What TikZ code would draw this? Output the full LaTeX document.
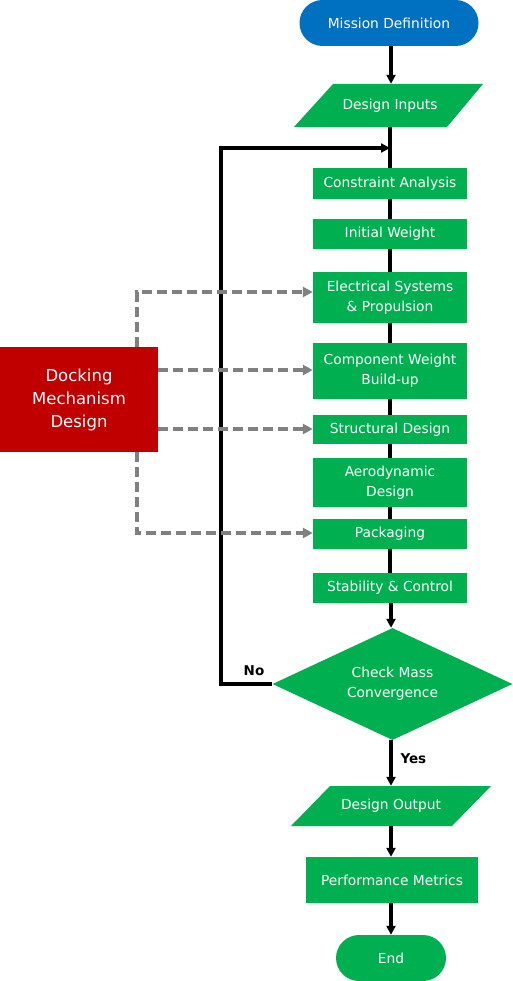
\documentclass[tikz,border=0pt]{standalone}
\usepackage{fontspec}
\setmainfont{DejaVu Sans}
\usetikzlibrary{shapes.geometric,arrows.meta}
\definecolor{gfill}{HTML}{00B050}
\definecolor{bfill}{HTML}{0070C0}
\definecolor{rfill}{HTML}{C00000}
\definecolor{dgray}{HTML}{808080}
\tikzset{
  txt/.style={font=\fontsize{13.8}{20}\selectfont, text=white, align=center},
  gbox/.style={txt, fill=gfill, inner sep=0pt, minimum width=154pt},
  flow/.style={line width=3.2pt, black},
  arr/.style={flow, -{Triangle[length=9pt,width=9pt]}},
  dashline/.style={line width=3.4pt, dgray, dash pattern=on 10pt off 5pt, -{Triangle[length=10pt,width=10pt]}},
  lbl/.style={font=\fontsize{13.5}{16}\selectfont\bfseries},
}
\begin{document}
\begin{tikzpicture}[x=1pt,y=-1pt]
\useasboundingbox (0,0) rectangle (513,981);
% terminators
\node[txt, fill=bfill, rounded corners=23pt, minimum width=179pt, minimum height=46pt, inner sep=0pt] (mission) at (389,23) {Mission Definition};
% design inputs parallelogram
\fill[gfill] (294,127) -- (333,84) -- (483,84) -- (447,127) -- cycle;
\node[txt, minimum width=100pt, minimum height=43pt, inner sep=0pt] (inputs) at (390,105.5) {Design Inputs};
% boxes
\node[gbox, minimum height=31pt] (constraint) at (390,183.5) {Constraint Analysis};
\node[gbox, minimum height=30pt] (initial) at (390,234) {Initial Weight};
\node[gbox, minimum height=51pt] (elec) at (390,297.5) {Electrical Systems\\\& Propulsion};
\node[gbox, minimum height=56pt] (comp) at (390,371) {Component Weight\\Build-up};
\node[gbox, minimum height=29pt] (struct) at (390,429.5) {Structural Design};
\node[gbox, minimum height=49pt] (aero) at (390,482.5) {Aerodynamic\\Design};
\node[gbox, minimum height=30pt] (pack) at (390,534) {Packaging};
\node[gbox, minimum height=30pt] (stab) at (390,588) {Stability \& Control};
% diamond
\node[txt, diamond, fill=gfill, inner sep=0pt, minimum width=240pt, minimum height=112pt, aspect=2.14] (check) at (392.5,684) {Check Mass\\Convergence};
% design output
\fill[gfill] (291,826) -- (330,786) -- (491,786) -- (452,826) -- cycle;
\node[txt, minimum width=100pt, minimum height=40pt, inner sep=0pt] (output) at (391,806) {Design Output};
\node[gbox, minimum width=172pt, minimum height=46pt] (perf) at (392,880) {Performance Metrics};
\node[txt, fill=gfill, rounded corners=23pt, minimum width=110pt, minimum height=46pt, inner sep=0pt] (end) at (391,958) {End};
% docking
\node[txt, font=\fontsize{16.5}{23}\selectfont, fill=rfill, minimum width=158pt, minimum height=105pt, inner sep=0pt] (dock) at (79,399.5) {Docking\\Mechanism\\Design};
% main flow
\draw[arr] (mission.south -| 391,0) -- (inputs.north -| 391,0);
\coordinate (join) at (390,148);
\draw[flow] (inputs.south -| join) -- (constraint.north -| join);
\draw[flow] (constraint.south -| join) -- (initial.north -| join);
\draw[flow] (initial.south -| join) -- (elec.north -| join);
\draw[flow] (elec.south -| join) -- (comp.north -| join);
\draw[flow] (comp.south -| join) -- (struct.north -| join);
\draw[flow] (struct.south -| join) -- (aero.north -| join);
\draw[flow] (aero.south -| join) -- (pack.north -| join);
\draw[flow] (pack.south -| join) -- (stab.north -| join);
\draw[arr] (stab.south -| 391,0) -- (check.north -| 391,0);
% feedback
\coordinate (fbc) at (221,684);
\draw[arr] (check.west) -- (fbc) -- (fbc |- join) -- (join);
\node[lbl] (no) at (254,671) {No};
% yes
\draw[arr] (check.south -| 391,0) -- (output.north -| 391,0);
\node[lbl, anchor=west] (yes) at (397,759) {Yes};
\draw[arr] (output.south -| 391,0) -- (perf.north -| 391,0);
\draw[arr] (perf.south -| 391,0) -- (end.north -| 391,0);
% dashed
\coordinate (dl) at (137,292);
\coordinate (dl2) at (137,533);
\draw[dashline] (dock.north -| dl) -- (dl) -- (elec.west |- dl);
\draw[dashline] (dock.south -| dl) -- (dl2) -- (pack.west |- dl2);
\draw[dashline] (dock.east |- 0,370) -- (comp.west |- 0,370);
\draw[dashline] (dock.east |- 0,429) -- (struct.west |- 0,429);
\end{tikzpicture}
\end{document}
